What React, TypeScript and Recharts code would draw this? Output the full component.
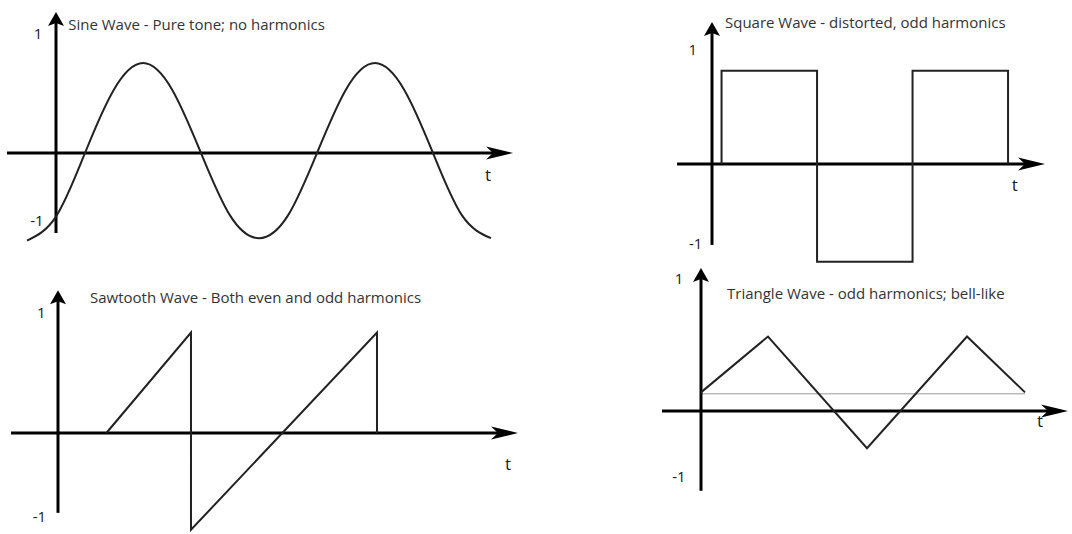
import { LineChart, Line, XAxis, YAxis, ReferenceLine, ReferenceDot } from 'recharts';

// values, one unit on v = the "1" mark of each panel
const sineT = [-0.5, 0, 0.5, 1, 1.5, 2, 2.5, 3, 3.5, 4, 4.5, 5, 5.5, 6, 6.5, 7, 7.5];
const sineV = [-0.73, -0.53, 0, 0.53, 0.75, 0.53, 0, -0.52, -0.71, -0.52, 0, 0.53, 0.75, 0.53, 0, -0.52, -0.71];

const squareT = [0.1, 0.1, 1.1, 1.1, 2.1, 2.1, 3.1, 3.1];
const squareV = [0, 0.81, 0.81, -0.85, -0.85, 0.81, 0.81, 0];

const sawT = [0.52, 1.43, 1.43, 3.43, 3.43];
const sawV = [0, 0.83, -0.8, 0.83, 0];

const triT = [0, 0.67, 1.66, 2.66, 3.24];
const triV = [0.14, 0.56, -0.28, 0.56, 0.14];

const titles = [
  'Sine Wave - Pure tone; no harmonics',
  'Square Wave - distorted, odd harmonics',
  'Sawtooth Wave - Both even and odd harmonics',
  'Triangle Wave - odd harmonics; bell-like',
];

const zip = (t: number[], v: number[]) => t.map((x, i) => ({ t: x, v: v[i] }));

type Note = { text: string; t: number; v: number; size: number; anchor?: 'start' | 'middle'; color?: string };

type Panel = {
  left: number;
  top: number;
  width: number;
  height: number;
  ox: number; // page position of t=0, v=0
  oy: number;
  sx: number; // px per unit
  sy: number;
  xAxis: [number, number];
  yAxis: [number, number];
  curve: 'natural' | 'linear';
  data: { t: number; v: number }[];
  notes: Note[];
  guide?: { from: number; to: number; v: number };
};

const FONT = '"Open Sans", sans-serif';
const TITLE = 15;

const panels: Panel[] = [
  {
    left: 0, top: 0, width: 540, height: 260,
    ox: 56, oy: 153, sx: 58, sy: 120,
    xAxis: [-0.845, 7.88], yAxis: [-0.667, 1.175],
    curve: 'natural',
    data: zip(sineT, sineV),
    notes: [
      { text: titles[0], t: 0.21, v: 1.075, size: TITLE, anchor: 'start', color: '#333' },
      { text: '1', t: -0.31, v: 1.0, size: 15 },
      { text: '-1', t: -0.33, v: -0.56, size: 15 },
      { text: 't', t: 7.45, v: -0.18, size: 17 },
    ],
  },
  {
    left: 540, top: 0, width: 532, height: 266,
    ox: 712, oy: 164, sx: 95.5, sy: 115,
    xAxis: [-0.366, 3.487], yAxis: [-0.704, 1.235],
    curve: 'linear',
    data: zip(squareT, squareV),
    notes: [
      { text: titles[1], t: 0.136, v: 1.235, size: TITLE, anchor: 'start', color: '#333' },
      { text: '1', t: -0.2, v: 1.0, size: 15 },
      { text: '-1', t: -0.17, v: -0.69, size: 15 },
      { text: 't', t: 3.17, v: -0.18, size: 17 },
    ],
  },
  {
    left: 0, top: 260, width: 540, height: 274,
    ox: 58, oy: 433, sx: 93, sy: 121,
    xAxis: [-0.505, 4.946], yAxis: [-0.66, 1.18],
    curve: 'linear',
    data: zip(sawT, sawV),
    notes: [
      { text: titles[2], t: 0.344, v: 1.124, size: TITLE, anchor: 'start', color: '#333' },
      { text: '1', t: -0.18, v: 1.0, size: 15 },
      { text: '-1', t: -0.2, v: -0.69, size: 15 },
      { text: 't', t: 4.84, v: -0.25, size: 17 },
    ],
  },
  {
    left: 540, top: 266, width: 532, height: 268,
    ox: 701, oy: 411, sx: 100, sy: 133,
    xAxis: [-0.39, 3.67], yAxis: [-0.6, 1.075],
    curve: 'linear',
    data: zip(triT, triV),
    guide: { from: 0, to: 3.24, v: 0.13 },
    notes: [
      { text: titles[3], t: 0.26, v: 0.887, size: TITLE, anchor: 'start', color: '#333' },
      { text: '1', t: -0.22, v: 1.0, size: 15 },
      { text: '-1', t: -0.22, v: -0.49, size: 15 },
      { text: 't', t: 3.39, v: -0.068, size: 17 },
    ],
  },
];

const XArrow = (p: any) => {
  const { x1, y1, x2 } = p;
  return (
    <g>
      <line x1={x1} y1={y1} x2={x2 - 18} y2={y1} stroke="#000" strokeWidth={3} />
      <polygon
        points={`${x2},${y1} ${x2 - 27},${y1 - 6.5} ${x2 - 20},${y1} ${x2 - 27},${y1 + 6.5}`}
        fill="#000"
      />
    </g>
  );
};

const YArrow = (p: any) => {
  const { x1, y1, y2 } = p;
  return (
    <g>
      <line x1={x1} y1={y1} x2={x1} y2={y2 + 10} stroke="#000" strokeWidth={3} />
      <polygon
        points={`${x1},${y2} ${x1 - 8},${y2 + 14} ${x1},${y2 + 11} ${x1 + 8},${y2 + 14}`}
        fill="#000"
      />
    </g>
  );
};

function WavePanel({ panel }: { panel: Panel }) {
  const { left, top, width, height, ox, oy, sx, sy } = panel;
  const xDomain = [(left - ox) / sx, (left + width - ox) / sx];
  const yDomain = [(oy - (top + height)) / sy, (oy - top) / sy];

  return (
    <div style={{ position: 'absolute', left, top, width, height }}>
      <LineChart width={width} height={height} data={panel.data} margin={{ top: 0, right: 0, bottom: 0, left: 0 }}>
        <XAxis type="number" dataKey="t" domain={xDomain} hide />
        <YAxis type="number" domain={yDomain} hide />
        {panel.guide && (
          <ReferenceLine
            segment={[
              { x: panel.guide.from, y: panel.guide.v },
              { x: panel.guide.to, y: panel.guide.v },
            ]}
            stroke="#bbb"
            strokeWidth={1.5}
          />
        )}
        <ReferenceLine
          segment={[
            { x: panel.xAxis[0], y: 0 },
            { x: panel.xAxis[1], y: 0 },
          ]}
          shape={XArrow}
        />
        <ReferenceLine
          segment={[
            { x: 0, y: panel.yAxis[0] },
            { x: 0, y: panel.yAxis[1] },
          ]}
          shape={YArrow}
        />
        <Line
          type={panel.curve}
          dataKey="v"
          stroke="#222"
          strokeWidth={2}
          dot={false}
          activeDot={false}
          isAnimationActive={false}
        />
        {panel.notes.map((n, i) => (
          <ReferenceDot
            key={i}
            x={n.t}
            y={n.v}
            r={0}
            shape={(p: any) => (
              <text
                x={p.cx}
                y={p.cy}
                textAnchor={n.anchor ?? 'middle'}
                dominantBaseline="central"
                fontFamily={FONT}
                fontSize={n.size}
                fill={n.color ?? '#1a1a1a'}
              >
                {n.text}
              </text>
            )}
          />
        ))}
      </LineChart>
    </div>
  );
}

export default function App() {
  return (
    <div style={{ position: 'fixed', left: 0, top: 0, width: 1072, height: 534, background: '#fff' }}>
      {panels.map((p, i) => (
        <WavePanel key={i} panel={p} />
      ))}
    </div>
  );
}
